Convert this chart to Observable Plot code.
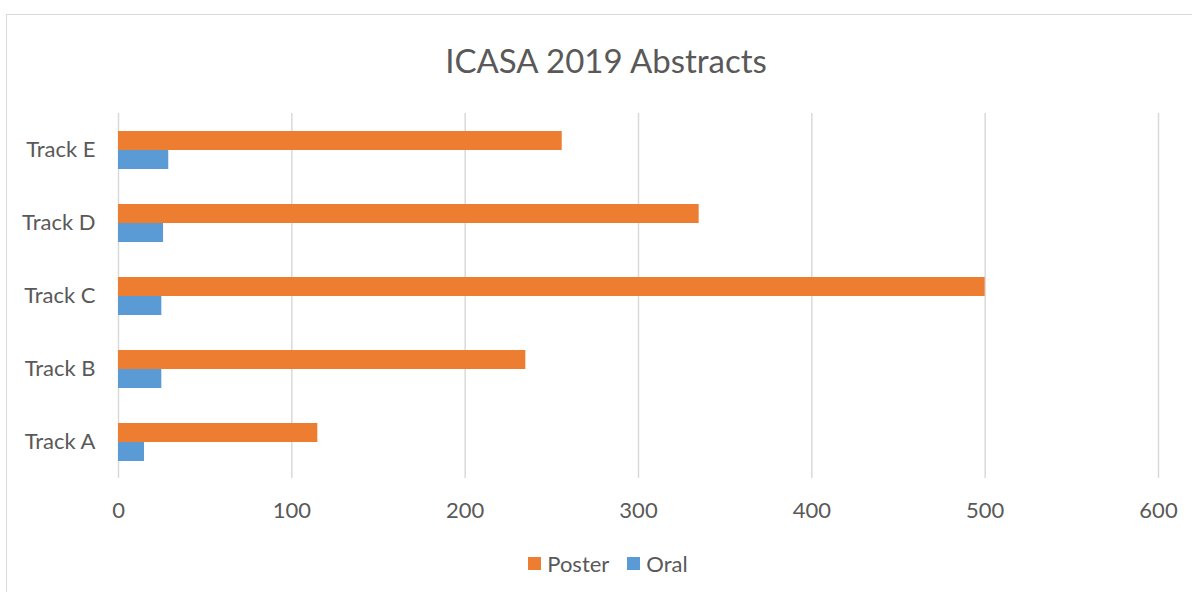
<!DOCTYPE html>
<html>
<head>
<meta charset="utf-8">
<script src="https://cdn.jsdelivr.net/npm/d3@7"></script>
<script src="https://cdn.jsdelivr.net/npm/@observablehq/plot@0.6"></script>
<style>
  html, body { margin: 0; padding: 0; background: #fff; width: 1192px; height: 592px; overflow: hidden; }
  body { font-family: Lato, "Open Sans", sans-serif; color: #595959; position: relative; }
  #frame { position: absolute; left: 6px; top: 14px; width: 1300px; height: 700px; border-top: 1.5px solid #d9d9d9; border-left: 1.5px solid #d9d9d9; box-sizing: border-box; }
  #wrap { position: relative; width: 1192px; }
  #title { height: 95px; box-sizing: border-box; padding-top: 39px; padding-left: 20px; text-align: center; font-size: 33px; line-height: 42px; }
  #chart svg { display: block; }
  #legend { height: 57px; padding-left: 24px; box-sizing: border-box; padding-top: 0px; display: flex; justify-content: center; align-items: center; font-size: 22px; line-height: 26px; }
  .item { display: flex; align-items: center; }
  .sw { width: 13px; height: 13px; display: inline-block; margin-right: 6px; }
</style>
</head>
<body>
<div id="frame"></div>
<div id="wrap">
  <div id="title">ICASA 2019 Abstracts</div>
  <div id="chart"></div>
  <div id="legend"></div>
</div>
<script>
const tracks = ["Track A", "Track B", "Track C", "Track D", "Track E"];
const series = ["Poster", "Oral"];
const poster = [115, 235, 500, 335, 256];
const oral = [15, 25, 25, 26, 29];
const xTicks = [0, 100, 200, 300, 400, 500, 600];
const colors = ["#ED7D31", "#5B9BD5"];

const data = tracks.flatMap((t, i) => [
  {track: t, series: "Poster", value: poster[i]},
  {track: t, series: "Oral", value: oral[i]}
]);

const chart = Plot.plot({
  width: 1192,
  height: 440,
  marginLeft: 118,
  marginRight: 34,
  marginTop: 18,
  marginBottom: 57,
  style: {fontFamily: "Lato, 'Open Sans', sans-serif", fontSize: "22px", color: "#595959", background: "transparent", overflow: "visible"},
  x: {domain: [0, 600], ticks: xTicks, tickSize: 0, tickPadding: 24, label: null, tickFormat: d => String(d)},
  fy: {domain: tracks.slice().reverse(), padding: 0, label: null, axis: "left", tickSize: 0, tickPadding: 23},
  y: {domain: series, paddingInner: 0, paddingOuter: 0.872, axis: null},
  color: {domain: series, range: colors},
  marks: [
    Plot.ruleX(xTicks, {stroke: "#d9d9d9", strokeWidth: 1.5}),
    Plot.barX(data, {fy: "track", y: "series", x: "value", fill: "series"})
  ]
});
document.getElementById("chart").appendChild(chart);

const legend = document.getElementById("legend");
series.forEach((s, i) => {
  const item = document.createElement("span");
  item.className = "item";
  item.style.marginRight = i === 0 ? "18px" : "0";
  const sw = document.createElement("span");
  sw.className = "sw";
  sw.style.background = colors[i];
  item.appendChild(sw);
  item.appendChild(document.createTextNode(s));
  legend.appendChild(item);
});
</script>
</body>
</html>
